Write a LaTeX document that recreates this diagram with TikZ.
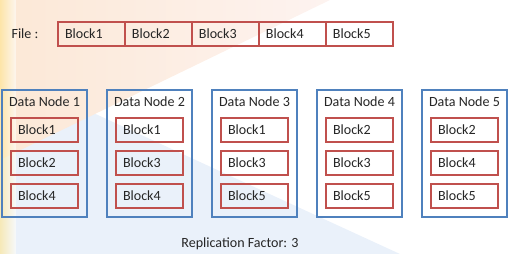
\documentclass[tikz,border=0pt]{standalone}
\usepackage{fontspec}
\setmainfont{Carlito}
\usetikzlibrary{positioning}

\definecolor{blockred}{RGB}{192,80,77}
\definecolor{nodeblue}{RGB}{79,129,189}
\definecolor{inkgray}{RGB}{38,38,38}
\definecolor{peachdeep}{RGB}{252,232,214}
\definecolor{peachlight}{RGB}{253,243,240}
\definecolor{skyhaze}{RGB}{234,241,250}
\definecolor{sunyellow}{RGB}{255,228,140}

\tikzset{
  txt/.style={font=\fontsize{8}{9.6}\selectfont, text=inkgray},
  block/.style={txt, draw=blockred, line width=0.8pt, outer sep=0pt,
    text width=1.06cm, inner xsep=0.14cm, minimum height=0.48cm, align=left},
  datanode/.style={draw=nodeblue, line width=1pt,
    minimum width=1.71cm, minimum height=2.55cm},
}

\begin{document}
\begin{tikzpicture}[x=0.02cm, y=-0.02cm]
  \useasboundingbox (0,0) rectangle (512,254);

  % backdrop
  \fill[skyhaze] (0,70) -- (400,254) -- (0,254) -- cycle;
  \shade[left color=peachdeep, right color=peachlight] (0,0) -- (330,0) -- (0,160) -- cycle;
  \shade[left color=sunyellow, right color=sunyellow!0, opacity=0.6] (0,0) rectangle (16,254);

  % the file split into blocks
  \node[txt] (file) at (25,34) {File :};
  \node[block] (f1) at (91.5,34) {Block1};
  \foreach \k [remember=\k as \j (initially 1)] in {2,...,5}
    \node[block, right=0pt of f\j] (f\k) {Block\k};

  % data nodes with their replicas
  \foreach \i/\a/\b/\c in {1/1/2/4, 2/1/3/4, 3/1/3/5, 4/2/3/5, 5/2/4/5} {
    \node[datanode] (dn\i) at ({44.5+105*(\i-1)},153.5) {};
    \node[txt] (title\i) at ({44.5+105*(\i-1)},102) {Data Node \i};
    \node[block] (dn\i-a) at ({44.5+105*(\i-1)},130) {Block\a};
    \node[block, below=0.18cm of dn\i-a] (dn\i-b) {Block\b};
    \node[block, below=0.18cm of dn\i-b] (dn\i-c) {Block\c};
  }

  \node[txt] (repl) at (240,244) {Replication Factor: 3};
\end{tikzpicture}
\end{document}
